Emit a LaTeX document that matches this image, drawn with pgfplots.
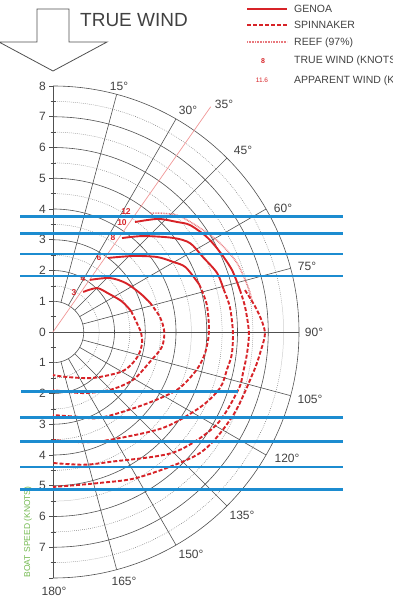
\documentclass[border=0pt]{standalone}
\usepackage{pgfplots}
\pgfplotsset{compat=1.18}
\usepackage{pgfplotstable}
\usepackage{fontspec}
\setmainfont{Liberation Sans}
\definecolor{gridc}{RGB}{80,80,80}
\definecolor{dotc}{RGB}{120,120,120}
\definecolor{txt}{RGB}{65,65,65}
\definecolor{polred}{RGB}{215,35,40}
\definecolor{reefc}{RGB}{232,120,125}
\definecolor{refl}{RGB}{240,150,150}
\definecolor{bluel}{RGB}{28,140,208}
\definecolor{greent}{RGB}{115,185,80}

% a = true wind angle (deg from bow), r = boat speed (knots)
\pgfplotstableread{
a r
37 1.63
45 2.02
55 2.19
66 2.45
75 2.63
}\gthree
\pgfplotstableread{
a r
75 2.63
87 2.80
90 2.86
97 2.92
105 2.88
113 2.75
121 2.54
139 1.98
163 1.53
180 1.40
}\sthree
\pgfplotstableread{
a r
35.4 2.08
46.5 2.55
56 2.85
66 3.10
73 3.29
}\gfour
\pgfplotstableread{
a r
73 3.29
82 3.51
90 3.62
98 3.57
107 3.30
121 3.03
135.5 2.64
154 2.21
180 1.89
}\sfour
\pgfplotstableread{
a r
36.6 3.00
46.5 3.59
54.2 4.17
59.7 4.52
64 4.80
72 5.00
}\gsix
\pgfplotstableread{
a r
72 5.00
80 5.08
90 5.07
98 4.99
105 4.82
115 4.45
129 3.77
151 3.19
165 2.85
180 2.70
}\ssix
\pgfplotstableread{
a r
36.3 3.79
43.2 4.28
51.9 4.96
57 5.31
63.4 5.45
70.2 5.67
76 5.72
}\geight
\pgfplotstableread{
a r
76 5.72
82 5.81
90 5.85
97 5.86
102 5.79
108.5 5.73
117 5.38
131 4.75
152 3.97
165 3.71
180 3.51
}\seight
\pgfplotstableread{
a r
36.7 4.46
40 4.75
43.4 5.06
48.4 5.39
52 5.65
58.3 5.88
64.4 6.02
70.9 6.16
77.3 6.23
}\gten
\pgfplotstableread{
a r
77.3 6.23
82.6 6.30
90 6.37
96 6.35
102 6.32
107.4 6.31
120 6.10
135 5.54
156 4.62
167 4.43
180 4.26
}\sten
\pgfplotstableread{
a r
39.2 4.99
46.7 5.54
55.8 5.90
62 6.15
69.4 6.39
77 6.51
81 6.55
}\rtwelve
\pgfplotstableread{
a r
77.7 6.39
83.8 6.67
90 6.89
95.8 6.77
101.6 6.64
115 6.45
129.5 6.19
149 5.50
162.7 5.14
180 5.04
}\stwelve

\tikzset{
  genoa/.style={polred, line width=1.9pt, smooth},
  spin/.style={polred, line width=1.9pt, dash pattern=on 4pt off 2pt, smooth},
  reef/.style={reefc, line width=1.6pt, dash pattern=on 0.8pt off 0.8pt, smooth},
}
\newcommand{\pol}[2]{\addplot[#1] table[x expr={\thisrow{r}*sin(\thisrow{a})}, y expr={\thisrow{r}*cos(\thisrow{a})}] {#2};}

\begin{document}
\begin{tikzpicture}
% ---- grid in pixel space (origin top-left of picture) ----
\begin{scope}[x=1pt, y=-1pt, yshift=606pt]
  \coordinate (C) at (53,332);
  \foreach \r in {1.5,2.5,3.5,4.5,5.5,6.5,7.5}{
    \draw[dotc, line width=0.5pt, dash pattern=on 0.7pt off 1.3pt] ([shift={(90:\r*30.75pt)}]C) arc[start angle=90, end angle=-90, radius=\r*30.75pt];
  }
  \foreach \r in {1,...,8}{
    \draw[gridc, line width=0.6pt] ([shift={(90:\r*30.75pt)}]C) arc[start angle=90, end angle=-90, radius=\r*30.75pt];
  }
  \foreach \t in {15,30,45,60,75,105,120,135,150,165}{
    \draw[gridc, line width=0.6pt] ([shift={(90-\t:30.75pt)}]C) -- ([shift={(90-\t:246pt)}]C);
  }
  \draw[gridc, line width=0.6pt] (C) -- ([shift={(0:246pt)}]C);
  \draw[gridc, line width=0.7pt] (53,86) -- (53,578);
  \foreach \k in {-8,...,8}{
    \draw[gridc, line width=0.6pt] (49,332+\k*30.75) -- (53,332+\k*30.75);
  }
  \foreach \k in {-7.5,-6.5,...,7.5}{
    \draw[gridc, line width=0.5pt] (50.5,332+\k*30.75) -- (55.5,332+\k*30.75);
  }
  \draw[refl, line width=0.7pt] (C) -- ([shift={(55:275pt)}]C);
\end{scope}

\begin{axis}[at={(0pt,0pt)}, anchor=south west,
  width=393pt, height=606pt, scale only axis,
  xmin=-1.72358, xmax=11.05691, ymin=-8.91057, ymax=10.79675,
  axis lines=none, clip=false]
  \pol{reef}{\rtwelve}
  \pol{genoa}{\gthree}
  \pol{spin}{\sthree}
  \pol{genoa}{\gfour}
  \pol{spin}{\sfour}
  \pol{genoa}{\gsix}
  \pol{spin}{\ssix}
  \pol{genoa}{\geight}
  \pol{spin}{\seight}
  \pol{genoa}{\gten}
  \pol{spin}{\sten}
  \pol{spin}{\stwelve}
\end{axis}

\begin{scope}[x=1pt, y=-1pt, yshift=606pt]
  \foreach \k in {0,...,8}{
    \node[anchor=east, text=txt, font=\fontsize{12}{12}\selectfont, inner sep=0pt] at (46,332-\k*30.75) {\k};
  }
  \foreach \k in {1,...,7}{
    \node[anchor=east, text=txt, font=\fontsize{12}{12}\selectfont, inner sep=0pt] at (46,332+\k*30.75) {\k};
  }
  \tikzset{ang/.style={text=txt, font=\fontsize{12}{12}\selectfont, inner sep=0pt}}
  \node[ang] at (119,86) {15°};
  \node[ang] at (188,110) {30°};
  \node[ang] at (243,150) {45°};
  \node[ang] at (283,208) {60°};
  \node[ang] at (307,266) {75°};
  \node[ang] at (314,332) {90°};
  \node[ang] at (310,399) {105°};
  \node[ang] at (287,458) {120°};
  \node[ang] at (242,515) {135°};
  \node[ang] at (191,554) {150°};
  \node[ang] at (124,581) {165°};
  \node[ang] at (54,591) {180°};
  \node[ang] at (224,104) {35°};
  \tikzset{ws/.style={text=polred, font=\fontsize{8.5}{8.5}\selectfont\bfseries, inner sep=0pt}}
  \node[ws] at (126,212) {12};
  \node[ws] at (122,223) {10};
  \node[ws] at (113,238) {8};
  \node[ws] at (99,258) {6};
  \node[ws] at (83,279) {4};
  \node[ws] at (74,293) {3};
  \node[rotate=90, text=greent, font=\fontsize{8.5}{8.5}\selectfont, inner sep=0pt] at (28,532) {BOAT SPEED (KNOTS)};
  \draw[gridc, line width=0.8pt, line join=miter] (37,9) -- (69,9) -- (69,42) -- (107,42) -- (53,71) -- (-1,42) -- (37,42) -- cycle;
  \node[anchor=west, text=txt, font=\fontsize{19}{19}\selectfont, inner sep=0pt] at (80,20) {TRUE WIND};
  \draw[polred, line width=1.9pt] (247,9) -- (287,9);
  \draw[polred, line width=1.9pt, dash pattern=on 4pt off 2pt] (247,25) -- (287,25);
  \draw[reefc, line width=1.6pt, dash pattern=on 0.8pt off 0.8pt] (247,42) -- (287,42);
  \node[text=polred, font=\fontsize{7}{7}\selectfont\bfseries, inner sep=0pt] at (263,61) {8};
  \node[text=polred, font=\fontsize{6.5}{6.5}\selectfont, inner sep=0pt] at (262,80) {11.6};
  \tikzset{lg/.style={anchor=west, text=txt, font=\fontsize{10.5}{10.5}\selectfont, inner sep=0pt}}
  \node[lg] at (294,9) {GENOA};
  \node[lg] at (294,25) {SPINNAKER};
  \node[lg] at (294,43) {REEF (97\%)};
  \node[lg] at (294,61) {TRUE WIND (KNOTS)};
  \node[lg] at (294,80.5) {APPARENT WIND (KNOTS)};
  \foreach \yy in {216.7,233.3,254,276,417.5,441.7,467,489.8}{
    \draw[bluel, line width=2.7pt] (20,\yy) -- (343,\yy);
  }
  \draw[bluel, line width=2.7pt] (21,391.7) -- (238,391.7);
\end{scope}
\pgfresetboundingbox
\path (0,0) rectangle (393pt,606pt);
\end{tikzpicture}
\end{document}
